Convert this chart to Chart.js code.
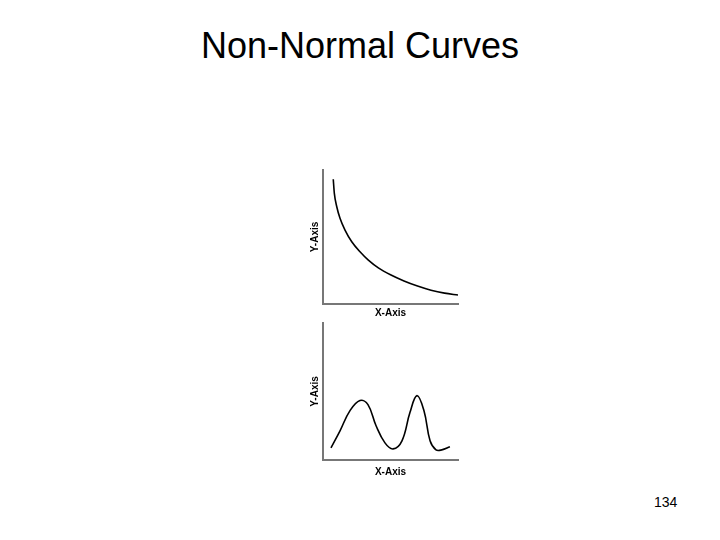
<!DOCTYPE html>
<html>
<head>
<meta charset="utf-8">
<script src="https://cdn.jsdelivr.net/npm/chart.js@4.4.0/dist/chart.umd.min.js"></script>
<style>
  body { margin: 0; background: #fff; width: 720px; height: 540px; position: relative; overflow: hidden; font-family: "Liberation Sans", Arial, sans-serif; }
  #title { position: absolute; left: 0; width: 720px; top: 25px; text-align: center; font-size: 36px; color: #000; }
  #page { position: absolute; left: 654px; top: 494px; font-size: 14px; color: #000; }
  .box { position: absolute; }
</style>
</head>
<body>
<div id="title">Non-Normal Curves</div>
<div class="box" style="left:300px; top:164px; width:164px; height:160px;"><canvas id="top"></canvas></div>
<div class="box" style="left:300px; top:318px; width:164px; height:164px;"><canvas id="bottom"></canvas></div>
<div id="page">134</div>
<script>
// decaying curve (top)
var decayX = [7.6, 8.4, 10.2, 12.6, 16.3, 21.3, 27.4, 33.6, 41, 50, 60, 70, 80, 90, 100];
var decayY = [93.1, 82.6, 72.6, 64, 55.2, 46.5, 39, 32.8, 27.0, 21.8, 17.2, 13.4, 10.3, 8.1, 6.7];

// two-humped curve (bottom)
var bimodalX = [5.9, 12.6, 20, 27.4, 33.3, 39.3, 45.9, 51.9, 58.5, 64.4, 69.6, 74.8, 79.3, 83.7, 88, 94];
var bimodalY = [8.8, 21.3, 36, 43.4, 40.4, 25, 12.5, 8.1, 14, 34.6, 47, 36, 14, 7.4, 7.4, 9.6];

var xTitle = "X-Axis";
var yTitle = "Y-Axis";

function pairs(xs, ys) {
  return xs.map(function(x, i) { return { x: x, y: ys[i] }; });
}

function makeChart(id, xs, ys, pad, xTitlePad, mode) {
  var axisFont = { family: "Liberation Sans", size: 10, weight: "bold", lineHeight: 1.2 };
  return new Chart(document.getElementById(id), {
    type: 'line',
    data: {
      datasets: [{
        data: pairs(xs, ys),
        borderColor: "#000",
        borderWidth: 1.6,
        pointRadius: 0,
        fill: false,
        tension: 0.4,
        cubicInterpolationMode: mode
      }]
    },
    options: {
      responsive: true,
      maintainAspectRatio: false,
      animation: false,
      plugins: { legend: { display: false }, tooltip: { enabled: false } },
      layout: { padding: pad },
      scales: {
        x: {
          type: 'linear', min: 0, max: 100,
          grid: { display: false, drawTicks: false },
          border: { color: "#777", width: 2 },
          ticks: { display: false },
          title: { display: true, text: xTitle, color: "#000", font: axisFont, padding: { top: xTitlePad, bottom: 0 } }
        },
        y: {
          min: 0, max: 100,
          grid: { display: false, drawTicks: false },
          border: { color: "#777", width: 2 },
          ticks: { display: false },
          title: { display: true, text: yTitle, color: "#000", font: axisFont, padding: { top: 0, bottom: 2 } }
        }
      }
    }
  });
}

makeChart("top", decayX, decayY, { left: 9, top: 6, right: 6, bottom: 5 }, 3, 'monotone');
makeChart("bottom", bimodalX, bimodalY, { left: 9, top: 5, right: 6, bottom: 4 }, 6, 'default');
</script>
</body>
</html>
